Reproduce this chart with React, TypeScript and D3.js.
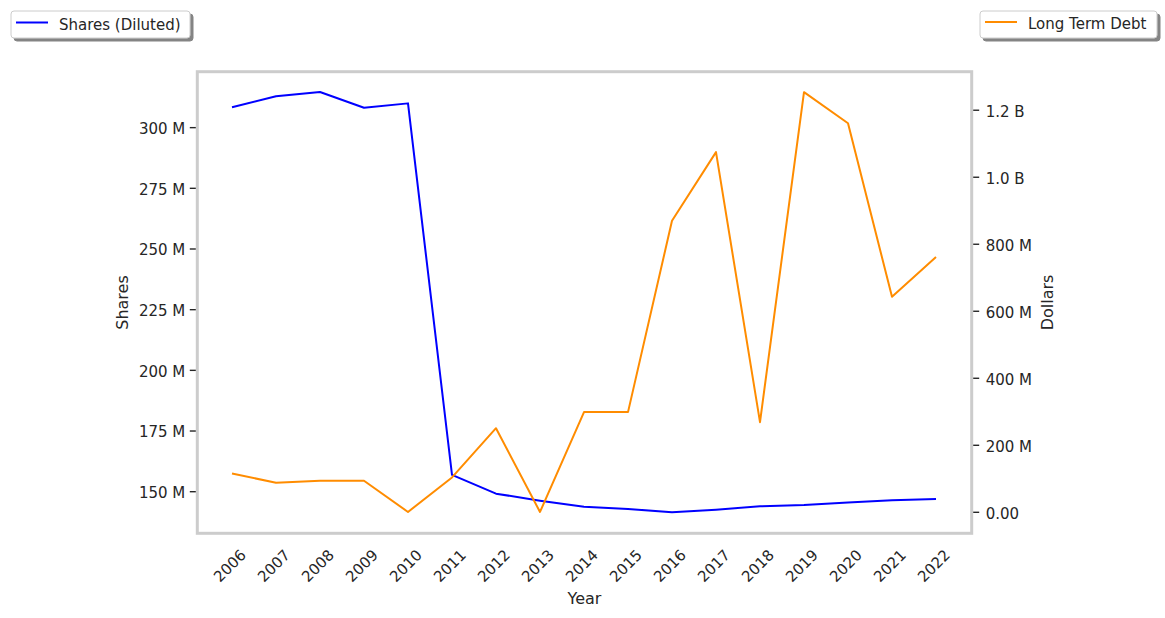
import React from "react";
import * as d3 from "d3";

const years = [2006, 2007, 2008, 2009, 2010, 2011, 2012, 2013, 2014, 2015, 2016, 2017, 2018, 2019, 2020, 2021, 2022];
// Shares (Diluted), millions
const shares = [308.4, 312.9, 314.7, 308.2, 310.0, 156.9, 149.2, 146.3, 143.8, 142.9, 141.5, 142.6, 144.0, 144.5, 145.6, 146.5, 147.0];
// Long Term Debt, millions of dollars
const debt = [116, 88, 94, 94, 1, 104, 251, 1, 299, 299, 870, 1075, 269, 1254, 1161, 643, 762];

const leftTicks = [150, 175, 200, 225, 250, 275, 300];
const leftTickLabels = ["150 M", "175 M", "200 M", "225 M", "250 M", "275 M", "300 M"];
const rightTicks = [0, 200, 400, 600, 800, 1000, 1200];
const rightTickLabels = ["0.00", "200 M", "400 M", "600 M", "800 M", "1.0 B", "1.2 B"];

const W = 1165, H = 618;
const PL = 197.3, PR = 971.7, PT = 71.7, PB = 533.3;
const FONT = "DejaVu Sans, sans-serif";
const TXT = "#262626";

export default function App() {
  const x = d3.scalePoint<number>().domain(years).range([232, 936]);
  const yL = d3.scaleLinear().domain([132.86, 323.05]).range([PB, PT]);
  const yR = d3.scaleLinear().domain([-62.7, 1315]).range([PB, PT]);

  const lineS = d3.line<number>().x((_, i) => x(years[i])!).y((d) => yL(d));
  const lineD = d3.line<number>().x((_, i) => x(years[i])!).y((d) => yR(d));

  return (
    <svg width={W} height={H} style={{ position: "absolute", left: 0, top: 0 }} fontFamily={FONT}>
      <defs>
        <filter id="sh" x="-10%" y="-20%" width="130%" height="160%">
          <feDropShadow dx="3" dy="3" stdDeviation="0.6" floodColor="#777" floodOpacity="0.9" />
        </filter>
      </defs>
      <rect width={W} height={H} fill="#fff" />

      {/* lines */}
      <path d={lineS(shares)!} fill="none" stroke="#0000ff" strokeWidth={2} strokeLinejoin="round" />
      <path d={lineD(debt)!} fill="none" stroke="#ff8c00" strokeWidth={2} strokeLinejoin="round" />

      {/* frame */}
      <rect x={PL} y={PT} width={PR - PL} height={PB - PT} fill="none" stroke="#cccccc" strokeWidth={3} />

      {/* left axis */}
      {leftTicks.map((t, i) => (
        <g key={"l" + t}>
          <line x1={PL - 1.5} x2={PL - 7.5} y1={yL(t)} y2={yL(t)} stroke={TXT} strokeWidth={1.4} />
          <text x={PL - 12} y={yL(t)} dy="0.42em" textAnchor="end" fontSize={15} fill={TXT}>
            {leftTickLabels[i]}
          </text>
        </g>
      ))}
      {/* right axis */}
      {rightTicks.map((t, i) => (
        <g key={"r" + t}>
          <line x1={PR + 1.5} x2={PR + 7.5} y1={yR(t)} y2={yR(t)} stroke={TXT} strokeWidth={1.4} />
          <text x={PR + 14} y={yR(t)} dy="0.42em" textAnchor="start" fontSize={15} fill={TXT}>
            {rightTickLabels[i]}
          </text>
        </g>
      ))}
      {/* x axis labels */}
      {years.map((yv) => (
        <text
          key={"x" + yv}
          transform={`translate(${x(yv)! + 15},${556}) rotate(-45)`}
          textAnchor="end"
          fontSize={15}
          fill={TXT}
        >
          {yv}
        </text>
      ))}

      {/* axis titles */}
      <text x={(PL + PR) / 2} y={604} textAnchor="middle" fontSize={16} fill={TXT}>Year</text>
      <text transform={`translate(128,${(PT + PB) / 2}) rotate(-90)`} textAnchor="middle" fontSize={16} fill={TXT}>Shares</text>
      <text transform={`translate(1053,${(PT + PB) / 2}) rotate(-90)`} textAnchor="middle" fontSize={16} fill={TXT}>Dollars</text>

      {/* legends */}
      <g>
        <rect x={11} y={11} width={179} height={27} rx={3} fill="#fff" stroke="#cccccc" strokeWidth={1} filter="url(#sh)" />
        <line x1={16} x2={48} y1={22.5} y2={22.5} stroke="#0000ff" strokeWidth={2} />
        <text x={59} y={24.5} dy="0.35em" fontSize={15} fill={TXT}>Shares (Diluted)</text>
      </g>
      <g>
        <rect x={980} y={11} width={177} height={27} rx={3} fill="#fff" stroke="#cccccc" strokeWidth={1} filter="url(#sh)" />
        <line x1={985} x2={1017} y1={22} y2={22} stroke="#ff8c00" strokeWidth={2} />
        <text x={1028} y={24} dy="0.35em" fontSize={15} fill={TXT}>Long Term Debt</text>
      </g>
    </svg>
  );
}
